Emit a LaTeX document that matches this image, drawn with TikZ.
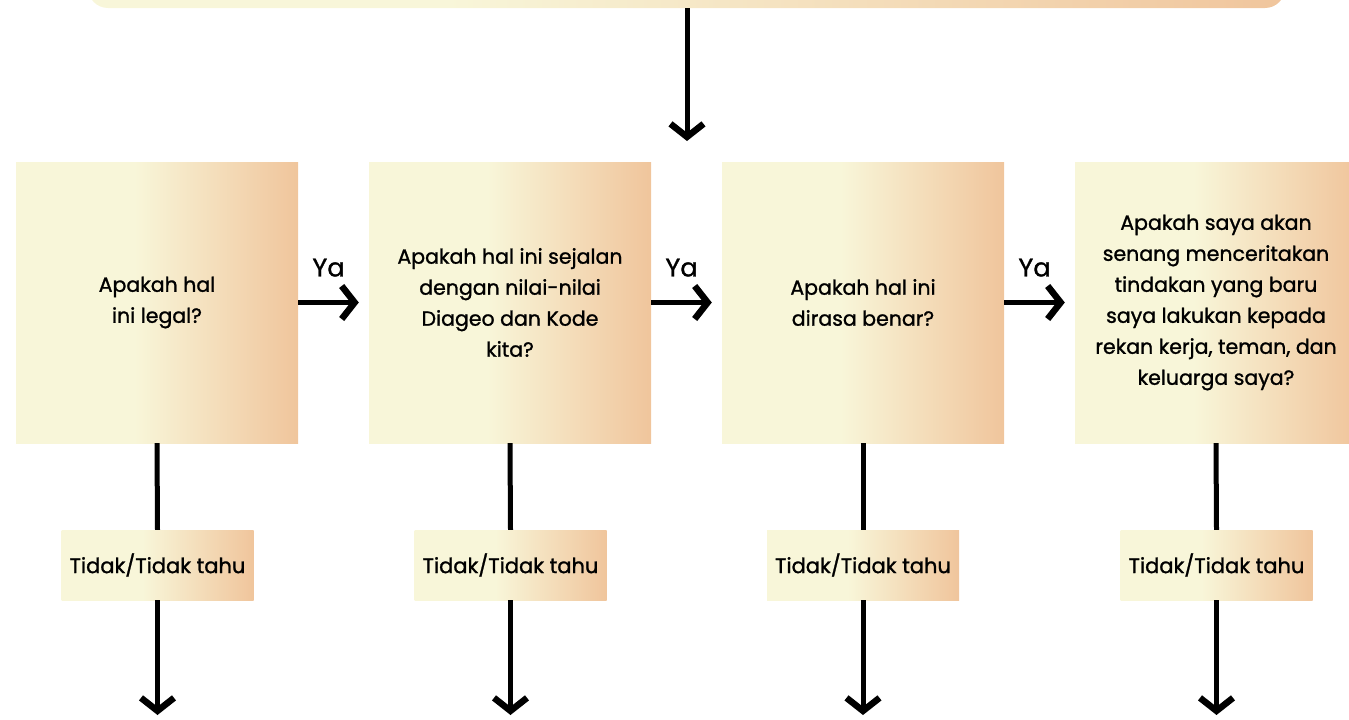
\documentclass[tikz,border=0pt]{standalone}
\usepackage{fontspec}
\setmainfont[FakeBold=1.2]{Poppins}
\usetikzlibrary{arrows.meta}
\definecolor{yel}{HTML}{F8F6D9}
\definecolor{peach}{HTML}{F0C59C}
\pgfdeclarehorizontalshading{boxshade}{100bp}{color(0bp)=(yel); color(25bp)=(yel); color(46bp)=(yel); color(75bp)=(peach); color(100bp)=(peach)}
\pgfdeclarehorizontalshading{topshade}{100bp}{color(0bp)=(yel); color(25bp)=(yel); color(40bp)=(yel); color(75bp)=(peach); color(100bp)=(peach)}
\tikzset{
  qbox/.style={shading=boxshade, minimum width=282pt, minimum height=281pt, inner sep=0pt, align=center, font=\fontsize{20.5}{31}\selectfont},
  tbox/.style={shading=boxshade, minimum width=192pt, minimum height=70pt, inner sep=0pt, font=\fontsize{21}{24}\selectfont},
  arr/.style={line width=5pt, -{Straight Barb[length=13pt, width=33pt, line width=6.5pt]}},
  ln/.style={line width=5pt},
  ya/.style={font=\fontsize{25.5}{28}\selectfont}
}
\begin{document}
\begin{tikzpicture}[x=1pt,y=-1pt]
\useasboundingbox (0,0) rectangle (1349,720);
\shade[shading=topshade, rounded corners=20pt] (88,-40) rectangle (1285,8);
\coordinate (topb) at (687,8);
\coordinate (topt) at (687,141);
\draw[arr] (topb) -- (topt);

\node[qbox] (q1) at (157,302.5) {Apakah hal\\ini legal?};
\node[qbox] (q2) at (510,302.5) {Apakah hal ini sejalan\\dengan nilai-nilai\\Diageo dan Kode\\kita?};
\node[qbox] (q3) at (863,302.5) {Apakah hal ini\\dirasa benar?};
\node[qbox] (q4) at (1216,302.5) {Apakah saya akan\\senang menceritakan\\tindakan yang baru\\saya lakukan kepada\\rekan kerja, teman, dan\\keluarga saya?};

\foreach \i/\x in {1/157.5,2/510.5,3/863,4/1216.5}{
  \node[tbox] (t\i) at (\x,565) {Tidak/Tidak tahu};
  \coordinate (e\i) at (\x,715);
  \draw[ln] (q\i.south) -- (t\i.north);
  \draw[arr] (t\i.south) -- (e\i);
}

\draw[arr] (q1.east) -- node[ya, above=20pt] (y1) {Ya} ([xshift=-10pt]q2.west);
\draw[arr] (q2.east) -- node[ya, above=20pt] (y2) {Ya} ([xshift=-10pt]q3.west);
\draw[arr] (q3.east) -- node[ya, above=20pt] (y3) {Ya} ([xshift=-10pt]q4.west);
\end{tikzpicture}
\end{document}
